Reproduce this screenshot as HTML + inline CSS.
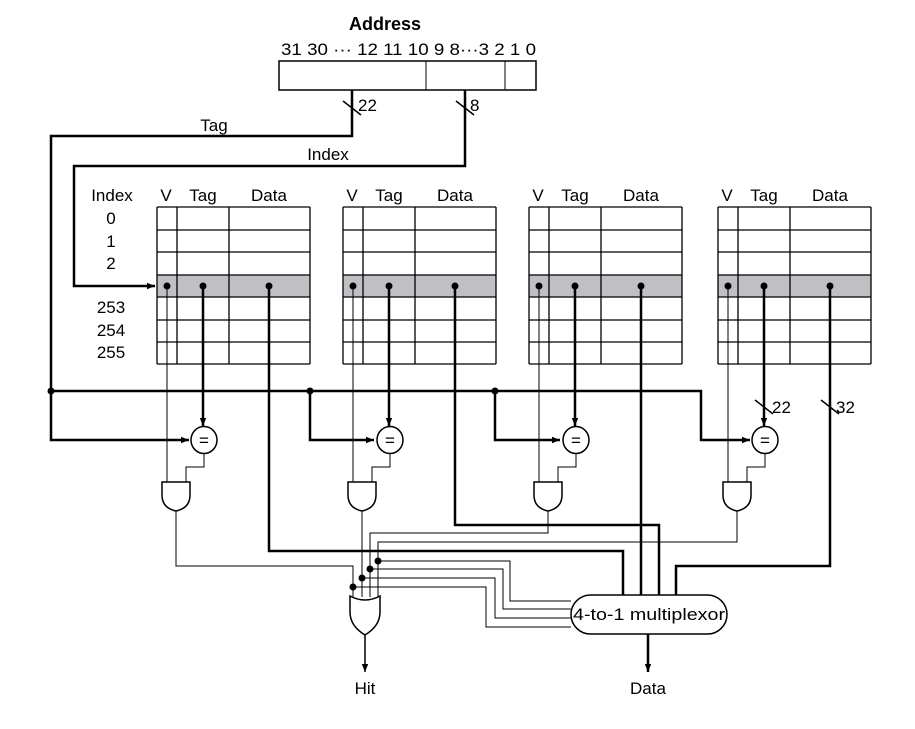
<!DOCTYPE html>
<html><head><style>body{margin:0;background:#fff}svg{display:block}text{font-family:"Liberation Sans",Arial,sans-serif;font-size:17px;fill:#000}</style></head>
<body>
<svg width="915" height="729" viewBox="0 0 915 729" xmlns="http://www.w3.org/2000/svg">
<defs>
<marker id="a" viewBox="0 0 10 10" refX="10" refY="5" markerWidth="8" markerHeight="8" markerUnits="userSpaceOnUse" orient="auto"><path d="M0,1 L10,5 L0,9 z" fill="#000"/></marker>
<g id="tb">
<rect x="0" y="275" width="153" height="22" fill="#c0c0c4"/>
<g stroke="#000" stroke-width="1.3">
<line x1="0" y1="207" x2="153" y2="207"/><line x1="0" y1="230" x2="153" y2="230"/><line x1="0" y1="252" x2="153" y2="252"/><line x1="0" y1="275" x2="153" y2="275"/><line x1="0" y1="297" x2="153" y2="297"/><line x1="0" y1="320" x2="153" y2="320"/><line x1="0" y1="342" x2="153" y2="342"/><line x1="0" y1="364" x2="153" y2="364"/>
<line x1="0" y1="207" x2="0" y2="364"/><line x1="20" y1="207" x2="20" y2="364"/><line x1="72" y1="207" x2="72" y2="364"/><line x1="153" y1="207" x2="153" y2="364"/>
</g>
<text x="9" y="201" text-anchor="middle">V</text><text x="46" y="201" text-anchor="middle">Tag</text><text x="112" y="201" text-anchor="middle">Data</text>
<circle cx="10" cy="286" r="3.5"/><circle cx="46" cy="286" r="3.5"/><circle cx="112" cy="286" r="3.5"/>
<line x1="10" y1="286" x2="10" y2="482" stroke="#000" stroke-width="1"/>
<line x1="46" y1="286" x2="46" y2="426" stroke="#000" stroke-width="2.5" marker-end="url(#a)"/>
<ellipse cx="47" cy="440" rx="13" ry="13.5" fill="#fff" stroke="#000" stroke-width="1.5"/>
<text x="47" y="446" text-anchor="middle">=</text>
<polyline points="47,454 47,467 29,467 29,482" fill="none" stroke="#000" stroke-width="1"/>
<path d="M5,482 L33,482 L33,495 Q33,508 19,511 Q5,508 5,495 Z" fill="#fff" stroke="#000" stroke-width="1.5"/>
</g>
</defs>
<g fill="none" stroke="#000">
<rect x="279" y="61" width="257" height="29" stroke-width="1.5"/>
<line x1="426" y1="61" x2="426" y2="90"/><line x1="505" y1="61" x2="505" y2="90"/>
<polyline points="352,90 352,136 51,136 51,391" stroke-width="2.5"/>
<polyline points="465,90 465,166 74,166 74,286 155,286" stroke-width="2.5" marker-end="url(#a)"/>
<line x1="343" y1="101" x2="361" y2="115" stroke-width="1.5"/>
<line x1="456" y1="101" x2="474" y2="115" stroke-width="1.5"/>
</g>
<text x="385" y="30" text-anchor="middle" font-weight="bold" style="font-size:18px">Address</text>
<text x="281" y="55" textLength="255" lengthAdjust="spacingAndGlyphs">31 30 ··· 12 11 10 9 8···3 2 1 0</text>
<text x="358" y="111">22</text><text x="470" y="111">8</text>
<text x="214" y="131" text-anchor="middle">Tag</text>
<text x="328" y="160" text-anchor="middle">Index</text>
<text x="112" y="201" text-anchor="middle">Index</text>
<g text-anchor="middle"><text x="111" y="224">0</text><text x="111" y="247">1</text><text x="111" y="269">2</text>
<text x="111" y="313">253</text><text x="111" y="336">254</text><text x="111" y="358">255</text></g>

<use href="#tb" x="157" y="0"/>
<use href="#tb" x="343" y="0"/>
<use href="#tb" x="529" y="0"/>
<use href="#tb" x="718" y="0"/>
<g stroke="#000" stroke-width="1.5"><line x1="755" y1="400" x2="773" y2="414"/><line x1="821" y1="400" x2="839" y2="414"/></g>
<text x="772" y="413">22</text><text x="836" y="413">32</text>

<g fill="none" stroke="#000">
<polyline points="51,391 701,391 701,440 750,440" stroke-width="2.5" marker-end="url(#a)"/>
<polyline points="51,391 51,440 189,440" stroke-width="2.5" marker-end="url(#a)"/>
<polyline points="310,391 310,440 374,440" stroke-width="2.5" marker-end="url(#a)"/>
<polyline points="495,391 495,440 560,440" stroke-width="2.5" marker-end="url(#a)"/>
<polyline points="269,286 269,551 623,551 623,595" stroke-width="2.5"/>
<polyline points="455,286 455,525 659,525 659,595" stroke-width="2.5"/>
<polyline points="641,286 641,595" stroke-width="2.5"/>
<polyline points="830,286 830,566 676,566 676,595" stroke-width="2.5"/>
<g stroke-width="1">
<polyline points="176,511 176,566 353,566 353,597"/>
<polyline points="362,511 362,597"/>
<polyline points="548,511 548,533 370,533 370,597"/>
<polyline points="737,511 737,542 378,542 378,597"/>
<polyline points="378,561 510,561 510,601 571,601"/>
<polyline points="370,569 503,569 503,609 571,609"/>
<polyline points="362,578 495,578 495,618 571,618"/>
<polyline points="353,587 486,587 486,627 571,627"/>
</g>
<path d="M350,596 Q365,604 380,596 L380,612 Q380,626 365,635 Q350,626 350,612 Z" fill="#fff" stroke-width="1.5"/>
<line x1="365" y1="635" x2="365" y2="672" stroke-width="1.5" marker-end="url(#a)"/>
<rect x="571" y="595" width="156" height="39" rx="19.5" fill="#fff" stroke-width="1.5"/>
<line x1="648" y1="634" x2="648" y2="672" stroke-width="2.5" marker-end="url(#a)"/>
</g>
<g fill="#000">
<circle cx="51" cy="391" r="3.5"/><circle cx="310" cy="391" r="3.5"/><circle cx="495" cy="391" r="3.5"/>
<circle cx="378" cy="561" r="3.5"/><circle cx="370" cy="569" r="3.5"/><circle cx="362" cy="578" r="3.5"/><circle cx="353" cy="587" r="3.5"/>
</g>
<text x="573" y="620" textLength="152" lengthAdjust="spacingAndGlyphs">4-to-1 multiplexor</text>
<text x="365" y="694" text-anchor="middle">Hit</text>
<text x="648" y="694" text-anchor="middle">Data</text>
</svg>
</body></html>
